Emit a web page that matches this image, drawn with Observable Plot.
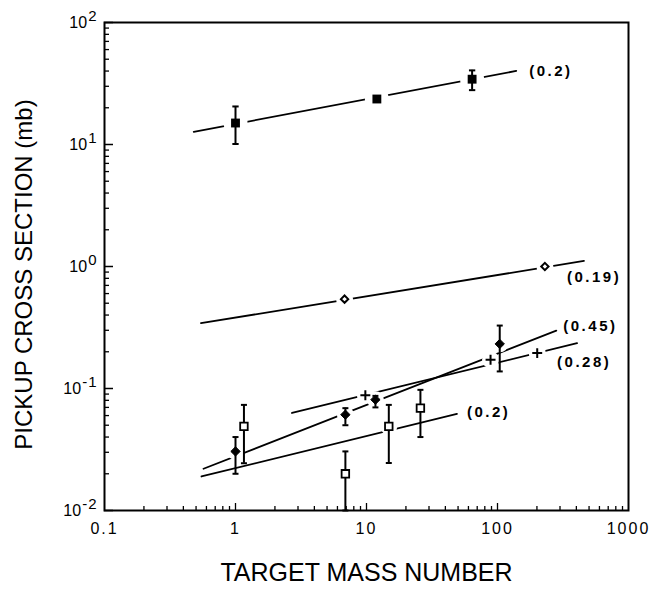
<!DOCTYPE html>
<html><head><meta charset="utf-8">
<script src="https://cdn.jsdelivr.net/npm/d3@7"></script>
<script src="https://cdn.jsdelivr.net/npm/@observablehq/plot@0.6"></script>
<style>html,body{margin:0;padding:0;background:#fff;} svg{display:block;}</style>
</head><body><div id="chart"></div>
<script>
// ---- data (log-log) ----
// filled squares, fit (0.2)
const squareX  = [1, 12, 64];
const squareY  = [15, 23.6, 34.3];
const squareLo = [10.1, null, 27.9];
const squareHi = [20.5, null, 40.5];
const squareLineX = [0.48, 139];
const squareLineY = [12.7, 40.1];
// open diamonds, fit (0.19)
const openDiamondX = [6.8, 230];
const openDiamondY = [0.54, 1.0];
const openDiamondLineX = [0.545, 457];
const openDiamondLineY = [0.343, 1.11];
// filled diamonds, fit (0.45)
const diamondX  = [1, 6.9, 11.7, 104];
const diamondY  = [0.0305, 0.061, 0.081, 0.232];
const diamondLo = [0.020, 0.050, 0.070, 0.138];
const diamondHi = [0.040, 0.069, 0.087, 0.328];
const diamondLineX = [0.57, 281];
const diamondLineY = [0.022, 0.298];
// pluses, fit (0.28)
const plusX = [9.8, 88.5, 201];
const plusY = [0.088, 0.172, 0.195];
const plusLineX = [2.7, 405];
const plusLineY = [0.063, 0.235];
// open squares, fit (0.2)
const openSquareX  = [1.16, 6.9, 14.8, 25.8];
const openSquareY  = [0.049, 0.020, 0.049, 0.069];
const openSquareLo = [0.0244, 0.01, 0.0245, 0.040];
const openSquareHi = [0.0734, 0.0305, 0.0734, 0.0975];
const openSquareLineX = [0.55, 49];
const openSquareLineY = [0.019, 0.062];
// fit exponent labels (in line order)
const slopeLabels = ["(0.2)", "(0.19)", "(0.45)", "(0.28)", "(0.2)"];
// axis
const xTickLabels = [0.1, 1, 10, 100, 1000];
const yTickExponents = [-2, -1, 0, 1, 2];
const xTitle = "TARGET MASS NUMBER";
const yTitle = "PICKUP CROSS SECTION (mb)";

// ---- layout / style ----
const W = 664, H = 593, mL = 104, mR = 36, mT = 22, mB = 83;
const fw = W - mL - mR, fh = H - mT - mB;
const font = "'Liberation Sans', Arial, Helvetica, sans-serif";
const labelOffsets = [[13, 0], [-17, 16], [7, -4], [-20, 19], [10, -2]];

// ---- tables ----
const pts = (xs, ys) => xs.map((x, i) => ({x, y: ys[i]}));
const errs = (xs, lo, hi) => xs.map((x, i) => ({x, lo: lo[i], hi: hi[i]})).filter(d => d.lo != null);
const lineSets = [
  [squareLineX, squareLineY], [openDiamondLineX, openDiamondLineY],
  [diamondLineX, diamondLineY], [plusLineX, plusLineY], [openSquareLineX, openSquareLineY]
];
const lineData = lineSets.flatMap(([xs, ys], k) => xs.map((x, i) => ({k, x, y: ys[i]})));
const lineEnds = lineSets.map(([xs, ys], k) => ({x: xs[xs.length - 1], y: ys[ys.length - 1], label: slopeLabels[k]}));

const squares = pts(squareX, squareY);
const openDiamonds = pts(openDiamondX, openDiamondY);
const diamonds = pts(diamondX, diamondY);
const pluses = pts(plusX, plusY);
const openSquares = pts(openSquareX, openSquareY);
const errorBars = [
  ...errs(squareX, squareLo, squareHi).map(d => ({...d, w: 5})),
  ...errs(diamondX, diamondLo, diamondHi).map(d => ({...d, w: 4.5})),
  ...errs(openSquareX, openSquareLo, openSquareHi).map(d => ({...d, w: 4.5}))
];
const caps = errorBars.flatMap(d => [{x: d.x, y: d.lo, w: d.w}, {x: d.x, y: d.hi, w: d.w}]);

const xMinor = d3.range(-1, 3).flatMap(e => d3.range(2, 10).map(m => m * 10 ** e));
const yMinor = d3.range(-2, 2).flatMap(e => d3.range(2, 10).map(m => +(m * 10 ** e).toPrecision(3)));
const yMajor = yTickExponents.map(e => 10 ** e);

const capSymbol = {draw(ctx, size) { const r = Math.sqrt(size / Math.PI); ctx.moveTo(-r, 0); ctx.lineTo(r, 0); }};

const chart = Plot.plot({
  width: W, height: H,
  marginLeft: mL, marginRight: mR, marginTop: mT, marginBottom: mB,
  style: {fontFamily: font, background: "white", color: "black"},
  x: {type: "log", domain: [0.1, 1000], axis: null},
  y: {type: "log", domain: [0.01, 100], axis: null},
  marks: [
    // ticks (inside)
    Plot.tickX(xMinor, {x: d => d, insetTop: fh - 4, stroke: "black", strokeWidth: 1.3}),
    Plot.tickX([1, 10, 100], {x: d => d, insetTop: fh - 7, stroke: "black", strokeWidth: 1.3}),
    Plot.tickY(yMinor, {y: d => d, insetRight: fw - 5, stroke: "black", strokeWidth: 1.3}),
    Plot.tickY(yMajor, {y: d => d, insetRight: fw - 9, stroke: "black", strokeWidth: 1.5}),
    Plot.frame({stroke: "black", strokeWidth: 2}),
    // fitted lines
    Plot.line(lineData, {x: "x", y: "y", z: "k", stroke: "black", strokeWidth: 1.8}),
    // white gaps around markers
    Plot.dot(squares, {x: "x", y: "y", r: 12, fill: "white"}),
    Plot.dot([...openDiamonds, ...diamonds, ...pluses, ...openSquares], {x: "x", y: "y", r: 8.5, fill: "white"}),
    // error bars
    Plot.ruleX(errorBars, {x: "x", y1: "lo", y2: "hi", stroke: "black", strokeWidth: 2}),
    Plot.dot(caps, {x: "x", y: "y", r: "w", symbol: capSymbol, stroke: "black", strokeWidth: 2}),
    // markers
    Plot.dot(squares, {x: "x", y: "y", symbol: "square", r: 5, fill: "black"}),
    Plot.dot(openDiamonds, {x: "x", y: "y", symbol: "diamond2", r: 3.3, fill: "white", stroke: "black", strokeWidth: 2}),
    Plot.dot(diamonds, {x: "x", y: "y", symbol: "diamond2", r: 4.2, fill: "black", stroke: "black", strokeWidth: 1}),
    Plot.dot(pluses, {x: "x", y: "y", symbol: "plus", r: 3.3, stroke: "black", strokeWidth: 2}),
    Plot.dot(openSquares, {x: "x", y: "y", symbol: "square2", r: 4.8, fill: "white", stroke: "black", strokeWidth: 1.8}),
    // slope labels at the line ends
    ...lineEnds.map((d, k) => Plot.text([d], {x: "x", y: "y", text: "label", textAnchor: "start", lineAnchor: "middle",
      dx: labelOffsets[k][0], dy: labelOffsets[k][1], fontSize: 15, fontWeight: "bold", fill: "black"})),
    // tick labels
    Plot.text(xTickLabels, {x: d => d, frameAnchor: "bottom", lineAnchor: "middle", textAnchor: "middle", dy: 18,
      text: d => String(d), fontSize: 16, fill: "black"}),
    Plot.text(yMajor, {y: d => d, frameAnchor: "left", lineAnchor: "middle", dx: -7, textAnchor: "end",
      text: (d, i) => "10^" + yTickExponents[i], fontSize: 16, fill: "black"}),
    // axis titles
    Plot.text([xTitle], {frameAnchor: "bottom", lineAnchor: "middle", textAnchor: "middle", dy: 62,
      text: d => d, fontSize: 25, fill: "black"}),
    Plot.text([yTitle], {frameAnchor: "left", lineAnchor: "middle", textAnchor: "middle", dx: -80, dy: 8, rotate: -90,
      text: d => d, fontSize: 24, fill: "black"})
  ]
});

// superscript exponents and letter spacing
chart.querySelectorAll("text").forEach(t => {
  const s = t.textContent;
  const m = /^10\^(-?\d+)$/.exec(s);
  if (m) {
    t.textContent = "";
    const ns = "http://www.w3.org/2000/svg";
    const a = document.createElementNS(ns, "tspan"); a.textContent = "10";
    const b = document.createElementNS(ns, "tspan"); b.textContent = m[1];
    b.setAttribute("dy", "-7"); b.setAttribute("dx", "1"); b.setAttribute("font-size", "15");
    b.setAttribute("letter-spacing", "1");
    t.appendChild(a); t.appendChild(b);
  } else if (/^\(0\./.test(s)) {
    t.setAttribute("letter-spacing", "2.5");
  } else if (/^[0-9.]+$/.test(s)) {
    t.setAttribute("letter-spacing", "2");
  }
});
document.getElementById("chart").appendChild(chart);
</script>
</body></html>
